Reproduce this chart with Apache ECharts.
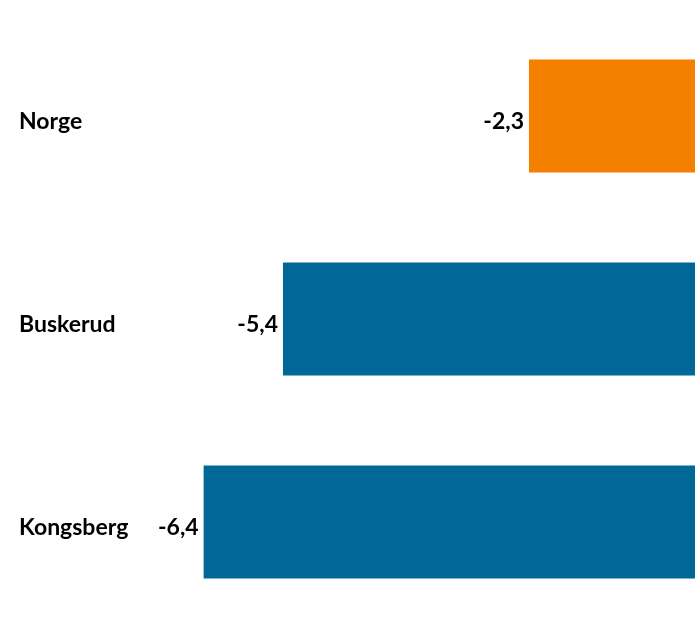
<!DOCTYPE html>
<html><head><meta charset="utf-8">
<script src="https://cdn.jsdelivr.net/npm/echarts@6/dist/echarts.min.js"></script>
<style>html,body{margin:0;padding:0;background:#fff}#c{width:695px;height:618px}</style>
</head><body><div id="c"></div>
<script>
const categories = ['Norge', 'Buskerud', 'Kongsberg'];
const values = [-2.3, -5.4, -6.4];
const barColors = ['#F58000', '#006899', '#006899'];

const chart = echarts.init(document.getElementById('c'));
chart.setOption({
  animation: false,
  grid: { left: 156, right: -16.5, top: 14.5, bottom: -5.5, containLabel: false, outerBoundsMode: 'none' },
  xAxis: { type: 'value', min: -7, max: 0, show: false },
  yAxis: {
    type: 'category', data: categories, inverse: true,
    axisLine: { show: false }, axisTick: { show: false }, splitLine: { show: false },
    axisLabel: { align: 'left', verticalAlign: 'top', lineHeight: 12, margin: 137, fontFamily: 'Lato', fontWeight: 'bold', fontSize: 23, color: '#000' }
  },
  series: [{
    type: 'bar',
    data: values.map((v, i) => ({ value: v, itemStyle: { color: barColors[i] } })),
    barCategoryGap: '44.3%',
    label: {
      show: true, position: 'left', distance: 5, offset: [0, 6],
      fontFamily: 'Lato', fontWeight: 'bold', fontSize: 23, color: '#000',
      formatter: p => String(p.value).replace('.', ',')
    }
  }]
});
</script></body></html>
